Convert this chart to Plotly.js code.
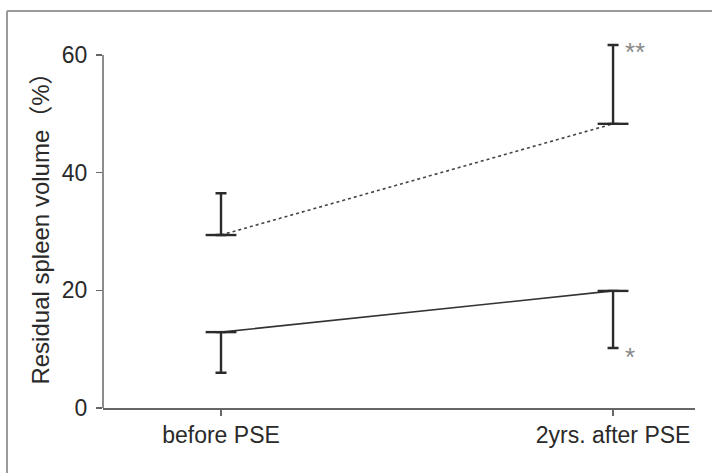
<!DOCTYPE html>
<html>
<head>
<meta charset="utf-8">
<script src="https://cdn.plot.ly/plotly-3.0.1.min.js"></script>
<style>html,body{margin:0;padding:0;background:#fff;}#chart{width:712px;height:473px;}</style>
</head>
<body>
<div id="chart"></div>
<script>
const categories = ['before PSE', '2yrs. after PSE'];
const upperMean = [29.4, 48.3];
const upperSD = [7.1, 13.4];
const lowerMean = [12.9, 19.9];
const lowerSD = [6.9, 9.7];
const yTicks = [0, 20, 40, 60];
const upperMark = '**';
const lowerMark = '*';

const xIdx = categories.map((c, i) => i);
const ink = '#2b2b2b';
const yAxisMax = yTicks[yTicks.length - 1];

const traces = [
  {
    x: xIdx, y: upperMean, type: 'scatter', mode: 'lines+markers',
    line: {color: '#444', width: 1.6, dash: 'dot'},
    marker: {symbol: 'line-ew', size: 22, line: {color: ink, width: 2.4}, color: ink},
    error_y: {type: 'data', symmetric: false, array: upperSD, arrayminus: [0, 0], color: ink, thickness: 2.4, width: 5.5},
    cliponaxis: false, hoverinfo: 'skip'
  },
  {
    x: xIdx, y: lowerMean, type: 'scatter', mode: 'lines+markers',
    line: {color: '#333', width: 1.6},
    marker: {symbol: 'line-ew', size: 22, line: {color: ink, width: 2.4}, color: ink},
    error_y: {type: 'data', symmetric: false, array: [0, 0], arrayminus: lowerSD, color: ink, thickness: 2.4, width: 5.5},
    cliponaxis: false, hoverinfo: 'skip'
  }
];

const L = 103, R = 695, T = 37, B = 408, W = 712, H = 473;
const pxPerUnit = 353 / 60;
const yTop = (B - T) / pxPerUnit;
const px = v => (v - L) / (R - L);
const py = v => (B - v) / (B - T);

const layout = {
  width: W, height: H,
  margin: {l: L, r: W - R, t: T, b: H - B, pad: 0},
  paper_bgcolor: '#fff', plot_bgcolor: '#fff',
  showlegend: false,
  font: {family: '"Liberation Sans", Arial, sans-serif', size: 23, color: '#333'},
  xaxis: {
    type: 'linear', range: [-0.301, 1.209],
    tickvals: xIdx, ticktext: categories,
    showgrid: false, zeroline: false,
    showline: true, linecolor: '#666', linewidth: 1.5,
    ticks: 'outside', ticklen: 6, tickcolor: '#666', tickwidth: 1.5,
    tickfont: {size: 23, color: '#2a2a2a'}
  },
  yaxis: {
    range: [0, yTop], tickvals: yTicks,
    showgrid: false, zeroline: false,
    showline: false,
    ticks: 'outside', ticklen: 6, tickcolor: '#666', tickwidth: 1.5,
    ticklabelstandoff: 4,
    tickfont: {size: 23, color: '#2a2a2a'},
    title: {text: 'Residual spleen volume（%）', font: {size: 24, color: '#2a2a2a', family: '"Liberation Sans", "Noto Sans CJK JP", sans-serif'}, standoff: 5}
  },
  annotations: [
    {x: 1, y: upperMean[1] + upperSD[1], xref: 'x', yref: 'y', text: upperMark, showarrow: false,
     xanchor: 'left', yanchor: 'middle', xshift: 10, yshift: -7, font: {size: 26, color: '#888'}},
    {x: 1, y: lowerMean[1] - lowerSD[1], xref: 'x', yref: 'y', text: lowerMark, showarrow: false,
     xanchor: 'left', yanchor: 'middle', xshift: 10, yshift: -9, font: {size: 26, color: '#888'}}
  ],
  shapes: [
    {type: 'line', xref: 'paper', yref: 'y', x0: 0, x1: 0, y0: 0, y1: yAxisMax, line: {color: '#666', width: 1.5}},
    {type: 'line', xref: 'paper', yref: 'paper', x0: px(7), x1: px(712), y0: py(11), y1: py(11), line: {color: '#9a9a9a', width: 2}},
    {type: 'line', xref: 'paper', yref: 'paper', x0: px(7), x1: px(7), y0: py(11), y1: py(473), line: {color: '#9a9a9a', width: 2}}
  ]
};

Plotly.newPlot('chart', traces, layout, {staticPlot: true, displayModeBar: false});
</script>
</body>
</html>
